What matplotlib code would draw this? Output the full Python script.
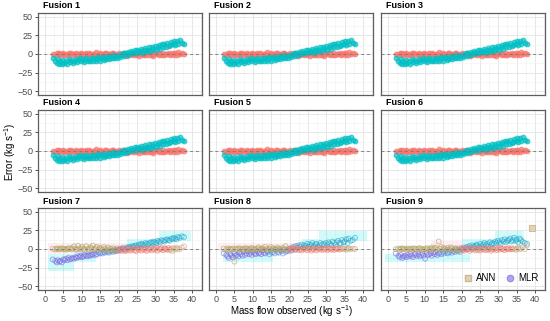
import matplotlib
matplotlib.use("Agg")
import matplotlib.pyplot as plt
from matplotlib.patches import Rectangle
from matplotlib.lines import Line2D

plt.rcParams['font.family'] = ['Liberation Sans', 'DejaVu Sans']
plt.rcParams['mathtext.fontset'] = 'custom'
plt.rcParams['mathtext.rm'] = 'Liberation Sans'
plt.rcParams['mathtext.it'] = 'Liberation Sans:italic'

panel_names = ['Fusion 1', 'Fusion 2', 'Fusion 3', 'Fusion 4', 'Fusion 5',
               'Fusion 6', 'Fusion 7', 'Fusion 8', 'Fusion 9']

# observed mass flow (kg/s), shared by every panel
mass_obs = [2.1, 2.8, 3.2, 3.5, 3.9, 4.2, 4.6, 5.0, 5.3, 5.7, 6.1, 6.4,
            6.8, 7.2, 7.5, 7.9, 8.3, 8.6, 9.0, 9.4, 9.7, 10.1, 10.5, 10.8,
            11.2, 11.6, 11.9, 12.3, 12.7, 13.0, 13.4, 13.8, 14.1, 14.5, 14.9, 15.2,
            15.6, 16.0, 16.3, 16.7, 17.1, 17.4, 17.8, 18.2, 18.5, 18.9, 19.3, 19.6,
            20.0, 20.4, 20.7, 21.1, 21.5, 21.8, 22.2, 22.6, 22.9, 23.3, 23.7, 24.0,
            24.4, 24.8, 25.1, 25.5, 25.9, 26.2, 26.6, 27.0, 27.3, 27.7, 28.1, 28.4,
            28.8, 29.2, 29.5, 29.9, 30.3, 30.6, 31.0, 31.4, 31.7, 32.1, 32.5, 32.8,
            33.2, 33.6, 33.9, 34.3, 34.7, 35.0, 35.4, 35.8, 36.1, 36.6, 37.2, 37.8]

# fusions 1-6
mlr_err_a = [-5, -9, -12, -7, -13, -10, -14, -8, -12, -9, -13, -7,
             -11, -8, -12, -9, -7, -11, -8, -6, -10, -7, -11, -8,
             -6, -10, -7, -9, -5, -9, -6, -10, -7, -4, -9, -6,
             -4, -8, -5, -7, -3, -7, -4, -6, -2, -5, -3, -6,
             -1, -4, -2, 1, -3, 2, -1, 3, 0, 4, 1, 2,
             5, 1, 6, 3, 4, 7, 2, 5, 8, 4, 6, 9,
             4, 10, 7, 11, 6, 9, 12, 7, 13, 9, 14, 10,
             15, 11, 12, 16, 13, 17, 12, 18, 14, 19, 15, 13]
ann_err_a = [0.5, -1.0, 1.2, -0.4, 0.8, -1.5, 0.2, 1.0, -0.8, 0.3, -1.2, 0.9,
             -0.3, 1.4, -0.9, 0.1, 0.7, -1.1, 0.4, -0.6, 1.1, -0.2, 0.6, -1.3,
             0.8, -0.5, 1.5, 0.0, -0.9, 0.6, -0.3, 2.5, -1.0, 0.4, 1.0, -0.7,
             0.2, -1.4, 0.9, 1.8, -0.6, 0.3, -1.8, 0.7, 1.2, -0.4, 0.5, -2.0,
             1.0, -0.8, 0.4, -1.6, 1.3, -0.2, -2.2, 0.6, -1.0, 1.6, -0.5, -1.7,
             0.8, -1.2, 0.3, -2.4, 1.1, -0.6, -1.5, 0.5, -2.0, 0.9, -0.9, 1.7,
             -1.3, 0.4, -2.1, 0.7, -0.4, 1.4, -1.8, 0.2, -0.8, 1.0, -1.4, 0.6,
             -0.3, 1.2, -1.0, 0.4, 1.8, -0.7, 0.9, -1.2, 2.2, 0.3, 1.5, -0.5]

mlr_err_7 = [-14, -16, -18, -15, -17, -16, -18, -14, -15, -13, -15, -12,
             -14, -13, -12, -13, -11, -12, -10, -11, -9, -11, -10, -8,
             -9, -10, -8, -9, -7, -8, -6, -8, -7, -5, -6, -5,
             -6, -4, -5, -3, -4, -5, -3, -2, -4, -2, -3, -1,
             -2, 0, -1, 1, 0, -1, 2, 1, 3, 2, 4, 3,
             4, 5, 3, 6, 5, 7, 6, 5, 8, 7, 6, 8,
             9, 8, 10, 9, 8, 11, 10, 9, 12, 11, 10, 12,
             13, 12, 11, 14, 13, 15, 14, 13, 16, 15, 17, 16]
ann_err_7 = [0.3, -0.5, 0.8, 0.0, -0.7, 0.5, 1.0, -0.3, 0.2, -0.8, 0.6, 0.0,
             1.2, -0.4, 0.7, 3.5, 0.1, -0.6, 4.2, 0.9, -0.3, 2.8, 0.4, -1.0,
             3.8, 0.5, -0.7, 2.2, 1.0, 4.5, -0.2, 0.8, 3.0, -0.9, 1.5, 0.2,
             -1.2, 2.6, 0.4, -0.8, 1.9, -1.5, 0.7, -2.0, 1.1, -0.6, -2.3, 0.9,
             -1.8, 0.3, -2.5, 1.2, -1.0, -2.8, 0.5, -1.6, 0.8, -2.2, -0.4, 1.0,
             -1.4, -3.0, 0.6, -0.9, 1.3, -2.1, 0.2, -1.2, 0.9, -2.6, 0.4, -0.7,
             1.1, -1.8, 0.3, -0.5, 1.6, -2.4, 0.6, -0.3, 1.2, -1.5, 0.8, 0.1,
             -0.9, 1.4, -1.2, 0.5, -2.7, 0.9, -0.4, 1.7, 0.3, -0.6, 2.0, 3.5]

mlr_err_8 = [-6, -8, -10, -12, -7, -9, -11, -6, -9, -8, -10, -5,
             -7, -9, -4, -8, -6, -3, -7, -5, -8, -4, -6, -7,
             -3, -6, -5, -7, -2, -5, -6, -3, -4, -7, -2, -5,
             -4, -6, -1, -4, -5, -2, -3, -6, -1, -4, -2, -3,
             0, -2, 1, 3, -1, 4, 2, 5, 3, 6, 2, 5,
             4, 7, 3, 6, 5, 8, 4, 6, 7, 3, 5, 8,
             6, 7, 5, 8, 6, 9, 7, 5, 10, 8, 6, 9,
             11, 8, 7, 12, 9, 10, 13, 8, 14, 11, 12, 15]
ann_err_8 = [0.4, -0.6, 0.9, -1.2, 0.2, -0.8, 0.6, -17.0, 0.3, -0.5, 1.0, -0.2,
             0.7, -1.0, 0.3, 1.2, -0.4, 0.8, -0.9, 0.5, 1.5, -0.3, 0.2, -1.1,
             0.9, 2.2, -0.6, 0.4, 1.0, -0.8, 3.0, 0.1, -1.3, 0.6, 2.6, -0.5,
             1.1, -1.0, 0.3, 2.0, -0.7, 0.5, -1.5, 1.3, -0.2, 3.8, -1.1, 0.6,
             -0.4, 1.2, -1.8, 0.3, 2.4, -0.9, 0.7, -1.4, 0.2, -2.0, 1.0, -0.6,
             0.5, -1.6, 0.9, -0.3, -2.2, 0.6, -0.8, 1.1, -1.9, 0.4, -0.5, 0.8,
             -1.2, 0.3, -0.6, 1.0, -1.5, 0.2, 0.7, -0.9, 0.4, -1.3, 0.9, -0.2,
             0.6, -0.8, 0.3, 1.1, -0.5, 0.8, -1.0, 0.4, 0.9, -0.3, 0.5, 0.0]

mlr_err_9 = [-6, -9, -11, -8, -12, -10, -9, -11, -8, -10, -7, -9,
             -11, -8, -6, -9, -7, -10, -8, -6, -9, -13, -5, -8,
             -7, -6, -9, -5, -7, -4, -8, -6, -5, -7, -4, -6,
             -3, -5, -6, -4, -2, -5, -3, -4, -1, -3, -2, -4,
             0, -1, 2, 1, 3, 0, 4, 2, 5, 3, 4, 6,
             5, 3, 7, 4, 6, 8, 5, 7, 4, 9, 6, 8,
             7, 10, 8, 11, 9, 7, 12, 10, 13, 9, 11, 12,
             14, 10, 12, 15, 11, 13, 9, 14, 12, 10, 8, 7]
ann_err_9 = [-0.3, 0.6, -0.9, 0.4, 1.0, -0.5, 0.2, -1.2, 0.8, -0.4, 0.5, -0.8,
             0.9, -0.2, 0.6, -1.0, 0.3, 1.4, -0.6, 0.1, -1.3, 0.7, -0.4, 1.1,
             -0.8, 0.5, 2.0, -0.3, 0.9, 1.8, -1.1, 10.0, 0.4, 2.6, -0.7, 1.2,
             0.3, -1.4, 1.6, -0.5, 2.2, 0.8, -1.8, 0.4, 1.0, -1.2, 0.6, -2.0,
             1.4, -0.7, -2.3, 0.5, -1.1, 1.8, -2.6, 0.2, -0.8, 1.0, -1.9, 0.6,
             -1.3, 0.9, -2.1, 0.3, -0.6, 1.5, -1.7, 0.4, -1.0, 0.8, -2.4, 0.2,
             -0.5, 1.1, -1.4, 0.6, -0.9, 1.3, -0.3, 0.7, -1.6, 0.5, -0.2, 0.9,
             -0.6, 1.0, -0.4, 0.8, -1.1, 0.3, 1.6, -0.5, 0.6, 2.4, -0.2, 4.5]
ann9_extra_x = [39.3]
ann9_extra_err = [28.0]

mlr_by_panel = [mlr_err_a] * 6 + [mlr_err_7, mlr_err_8, mlr_err_9]
ann_by_panel = [ann_err_a] * 6 + [ann_err_7, ann_err_8, ann_err_9]

# shaded bands in fusions 7-9: (x0, x1, y0, y1, kind)
bands = {
    6: [(0.8, 8, -29, -7, 'c'), (8, 14, -17, -3, 'c'), (0.8, 22.4, -7, 8, 'p'),
        (22.4, 35, -6, 5, 'p'), (22.4, 31, 0, 13, 'c'), (31, 39.7, 10.6, 24, 'c')],
    7: [(1.9, 15.4, -17, -4, 'c'), (0.5, 24, -4, 8, 'p'), (23.5, 28, 0, 13, 'c'),
        (28, 41, 11, 24, 'c')],
    8: [(-0.8, 22.3, -17, -7, 'c'), (11.8, 20, -4, 10.7, 'p'), (20, 29, -4, 13, 'c'),
        (29, 37, 7, 24, 'c')],
}
band_colors = {'c': (0.0, 0.9, 0.9, 0.18), 'p': (1.0, 0.55, 0.7, 0.15)}

ann_col = '#F8766D'
mlr_col = '#00BFC4'


def ann_color_low(x):
    if x < 20:
        return '#b3a25e'
    if x > 34:
        return '#c9a57a'
    return '#f0786a'


def mlr_color_low(x):
    if x < 14:
        return '#7b6be0'
    if x < 22:
        return '#5c8be0'
    return '#22a9cc'


W, H = 550, 321
fig = plt.figure(figsize=(W / 100, H / 100), dpi=100)
col_left = [38, 209, 381]
row_top = [13, 110, 208]
pw, ph = 164, 82

for i, name in enumerate(panel_names):
    r, c = divmod(i, 3)
    ax = fig.add_axes([col_left[c] / W, 1 - (row_top[r] + ph) / H, pw / W, ph / H])
    ax.set_xlim(-1.9, 42.7)
    ax.set_ylim(-55, 55)
    ax.set_xticks(range(0, 41, 5))
    ax.set_xticks([2.5 + 5 * k for k in range(9)], minor=True)
    ax.set_yticks([-50, -25, 0, 25, 50])
    ax.set_yticks([-37.5, -12.5, 12.5, 37.5], minor=True)
    ax.grid(which='major', color='#e3e3e3', lw=0.6)
    ax.grid(which='minor', color='#f0f0f0', lw=0.4)
    ax.set_axisbelow(True)
    for s in ax.spines.values():
        s.set_color('#5e5e5e')
        s.set_linewidth(0.9)
    ax.tick_params(which='minor', length=0)
    ax.tick_params(which='major', length=2.5, width=0.6, color='#333333',
                   labelsize=6.5, labelcolor='#4d4d4d', pad=1.2)
    if c != 0:
        ax.tick_params(axis='y', left=False, labelleft=False)
    if r != 2:
        ax.tick_params(axis='x', bottom=False, labelbottom=False)

    mlr = mlr_by_panel[i]
    ann = ann_by_panel[i]
    if r < 2:
        ax.scatter(mass_obs, ann, s=12, facecolors=(0.97, 0.46, 0.43, 0.2),
                   edgecolors=ann_col, linewidths=0.7, alpha=0.7, zorder=3)
        ax.scatter(mass_obs, mlr, s=12, facecolors=(0.0, 0.75, 0.77, 0.1),
                   edgecolors=mlr_col, linewidths=0.7, alpha=0.7, zorder=3)
    else:
        for (x0, x1, y0, y1, k) in bands[i]:
            ax.add_patch(Rectangle((x0, y0), x1 - x0, y1 - y0, facecolor=band_colors[k],
                                   edgecolor='none', zorder=1))
        ax.scatter(mass_obs, mlr, s=12, facecolors='none',
                   edgecolors=[mlr_color_low(x) for x in mass_obs],
                   linewidths=0.7, alpha=0.6, zorder=3)
        ax.scatter(mass_obs, ann, s=12, facecolors='none',
                   edgecolors=[ann_color_low(x) for x in mass_obs],
                   linewidths=0.7, alpha=0.6, zorder=3)
        if i == 8:
            ax.scatter(ann9_extra_x, ann9_extra_err, s=14, marker='s',
                       facecolors='#e3d3b8', edgecolors='#c9b48e', linewidths=0.6, zorder=3)
    ax.axhline(0, color='#7a7a7a', lw=0.7, ls=(0, (3, 3)), alpha=0.9, zorder=4)

    fig.text((col_left[c] + 5) / W, 1 - (row_top[r] - 7) / H, name,
             fontsize=6.5, fontweight='bold', ha='left', va='center')

    if i == 8:
        handles = [Line2D([], [], ls='none', marker='s', ms=4.5, mfc='#e0d2b8',
                          mec='#cbb892', label='ANN'),
                   Line2D([], [], ls='none', marker='o', ms=4.5, mfc='#b3a6ec',
                          mec='#9c8ee0', label='MLR')]
        ax.legend(handles=handles, loc='lower right', ncol=2, frameon=False,
                  fontsize=7, handletextpad=0.3, columnspacing=0.9,
                  borderaxespad=0.3, handlelength=1.0)

fig.text(10 / W, 1 - 152 / H, r'Error (kg s$^{-1}$)', rotation=90,
         fontsize=7, ha='center', va='center')
fig.text(291 / W, 1 - 319 / H, r'Mass flow observed (kg s$^{-1}$)',
         fontsize=7, ha='center', va='bottom')

fig.savefig('out.png', dpi=100)
